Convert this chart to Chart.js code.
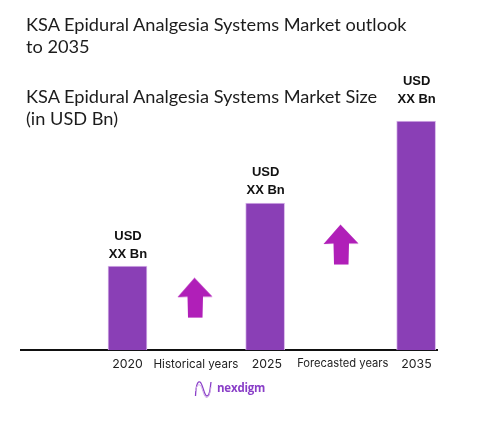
<!DOCTYPE html>
<html>
<head>
<meta charset="utf-8">
<style>
html,body{margin:0;padding:0;background:#fff;}
#wrap{position:relative;width:489px;height:422px;overflow:hidden;}
canvas{position:absolute;left:0;top:0;}
.t{position:absolute;left:26px;font-family:Lato,sans-serif;font-size:18.2px;color:#1c1c1c;white-space:nowrap;line-height:21px;}
#logo{position:absolute;left:194px;top:379px;}
#logotext{position:absolute;left:217px;top:380px;font:bold 11.5px "Open Sans",sans-serif;color:#8a3fc8;letter-spacing:-.2px;line-height:16px;}
</style>
</head>
<body>
<div id="wrap">
<canvas id="c" width="489" height="422"></canvas>
<div class="t" style="top:14px" id="t1"></div>
<div class="t" style="top:36px" id="t2"></div>
<div class="t" style="top:86px" id="t3"></div>
<div class="t" style="top:108px" id="t4"></div>
<svg id="logo" width="20" height="20" viewBox="0 0 20 20" fill="none">
<path d="M1.5 17 C2 5 4 2 6 3 C9 5 10 17 13 17 C16 17 16 10 17 3" stroke="#8a3fc8" stroke-width="1.3"/>
<path d="M1.5 12 C3 5 5 5 7 7 C9 11 10 19 13 18.5 C15 18 16 14 17 8" stroke="#cfa9e6" stroke-width="1"/>
</svg>
<div id="logotext">nexdigm</div>
</div>
<script src="https://cdn.jsdelivr.net/npm/chart.js@4"></script>
<script>
const titleLines = ["KSA Epidural Analgesia Systems Market outlook","to 2035","KSA Epidural Analgesia Systems Market Size","(in USD Bn)"];
const barSlots = [0, 1.905, 3.995];
const barValues = [28, 49, 76.3];
const barLabels = ["USD", "XX Bn"];
const arrowSlots = [0.934, 2.955];
const arrowValues = [17.5, 35.2];
const tickSlots = [0, 0.948, 1.93, 2.98, 4];
const tickLabels = ["2020", "Historical years", "2025", "Forecasted years", "2035"];

titleLines.forEach((s,i)=>{document.getElementById("t"+(i+1)).textContent=s;});

const arrow = document.createElement("canvas");
arrow.width = 36; arrow.height = 41;
const a = arrow.getContext("2d");
a.fillStyle = "#b01fb8";
a.beginPath();
a.moveTo(17.5,0.5);a.lineTo(35.5,19.5);a.lineTo(26,19.5);a.lineTo(25.5,40.5);a.lineTo(11,40.5);a.lineTo(10.5,19.5);a.lineTo(0.5,20);
a.closePath();a.fill();

const labelOffsets = [12, 13, 22];
const barTextPlugin = {
  id:"barText",
  afterDatasetsDraw(chart){
    const ctx = chart.ctx, meta = chart.getDatasetMeta(0);
    ctx.save();
    ctx.fillStyle = "#111";
    ctx.font = 'bold 13px "Liberation Sans",sans-serif';
    ctx.textAlign = "center";
    ctx.textBaseline = "middle";
    meta.data.forEach((bar,i)=>{
      const y = bar.y - labelOffsets[i];
      ctx.fillText(barLabels[1], bar.x + 0.5, y);
      ctx.fillText(barLabels[0], bar.x + 0.5, y - 18);
    });
    ctx.restore();
  }
};

new Chart(document.getElementById("c"),{
  type:"bar",
  data:{datasets:[
    {type:"bar",data:barSlots.map((x,i)=>({x,y:barValues[i]})),backgroundColor:"#8a3fb6",borderColor:"#d9b8ea",borderWidth:{left:1,right:1,top:1,bottom:0},barThickness:39,order:2},
    {type:"scatter",data:arrowSlots.map((x,i)=>({x,y:arrowValues[i]})),pointStyle:arrow,pointRadius:18,order:1}
  ]},
  options:{
    responsive:false,animation:false,devicePixelRatio:1,
    layout:{padding:{left:21,right:52,top:50,bottom:43}},
    plugins:{legend:{display:false},title:{display:false},tooltip:{enabled:false}},
    events:[],
    scales:{
      x:{type:"linear",offset:false,min:-1.474,max:4.284,
        grid:{display:false,drawTicks:false},
        border:{display:true,color:"#111",width:2},
        afterBuildTicks(s){s.ticks=tickSlots.map(v=>({value:v}));},
        ticks:{autoSkip:false,maxRotation:0,padding:7,color:"#222",
          font:c=>({family:"Inter",size:[12.3,11.6,12.3,11.2,12.3][c.index]}),
          callback:(v,i)=>tickLabels[i]}
      },
      y:{display:false,min:0,max:100}
    }
  },
  plugins:[barTextPlugin]
});
</script>
</body>
</html>
